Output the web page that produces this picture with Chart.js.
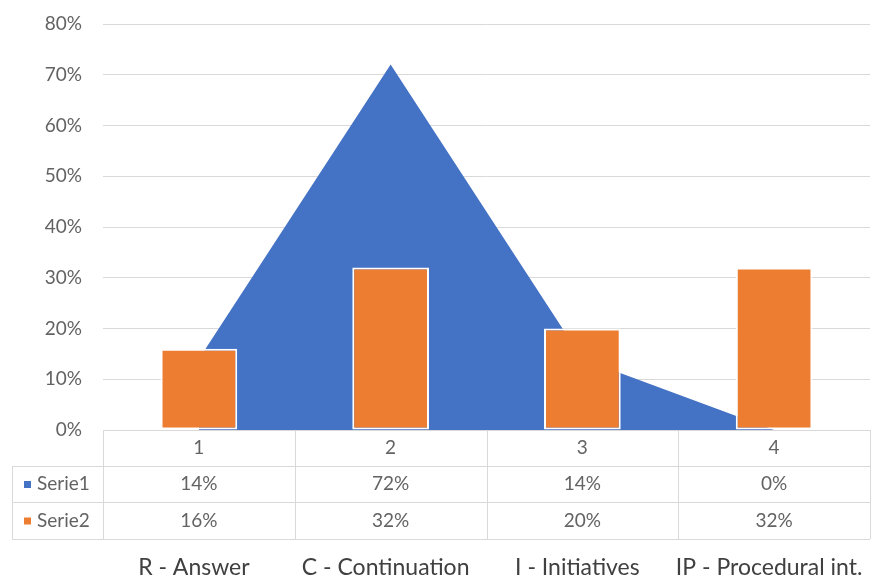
<!DOCTYPE html>
<html>
<head>
<meta charset="utf-8">
<script src="https://cdn.jsdelivr.net/npm/chart.js@4.4.1/dist/chart.umd.min.js"></script>
<style>
  html, body { margin: 0; padding: 0; background: #fff; }
  #wrap { width: 878px; height: 576px; }
</style>
</head>
<body>
<div id="wrap"><canvas id="chart" width="878" height="576"></canvas></div>
<script>
// chart data
const categories = ['1', '2', '3', '4'];
const categoryNames = ['R - Answer', 'C - Continuation', 'I - Initiatives', 'IP - Procedural int.'];
const serie1 = [0.14, 0.72, 0.14, 0.00];
const serie2 = [0.16, 0.32, 0.20, 0.32];
const seriesNames = ['Serie1', 'Serie2'];
const yTicks = [0, 0.1, 0.2, 0.3, 0.4, 0.5, 0.6, 0.7, 0.8];

const BLUE = '#4472C4';
const ORANGE = '#ED7D31';
const GRID = '#D9D9D9';
const TEXT = '#636363';
const FONT = 'Lato, "Open Sans", sans-serif';

const pct = (v) => Math.round(v * 100) + '%';

// Excel-style data table under the plot area
const dataTablePlugin = {
  id: 'dataTable',
  afterDraw(chart) {
    const ctx = chart.ctx;
    const area = chart.chartArea;
    const xs = chart.scales.x;
    const tableLeft = 12;
    const rowTops = [area.bottom, area.bottom + 36, area.bottom + 72, area.bottom + 109];
    const bounds = [area.left];
    categories.forEach((c, i) => {
      bounds.push(i < categories.length - 1
        ? (xs.getPixelForValue(i) + xs.getPixelForValue(i + 1)) / 2
        : area.right);
    });

    ctx.save();
    ctx.strokeStyle = GRID;
    ctx.lineWidth = 1;
    ctx.beginPath();
    // horizontal lines
    ctx.moveTo(area.left, rowTops[0] + 0.5); ctx.lineTo(area.right, rowTops[0] + 0.5);
    for (let r = 1; r < rowTops.length; r++) {
      ctx.moveTo(tableLeft, rowTops[r] + 0.5); ctx.lineTo(area.right, rowTops[r] + 0.5);
    }
    // vertical lines
    bounds.forEach((b) => {
      ctx.moveTo(Math.round(b) + 0.5, rowTops[0]); ctx.lineTo(Math.round(b) + 0.5, rowTops[3]);
    });
    ctx.moveTo(tableLeft + 0.5, rowTops[1]); ctx.lineTo(tableLeft + 0.5, rowTops[3]);
    ctx.stroke();

    ctx.fillStyle = TEXT;
    ctx.font = '19px ' + FONT;
    ctx.textAlign = 'center';
    ctx.textBaseline = 'middle';
    const rows = [categories, serie1.map(pct), serie2.map(pct)];
    rows.forEach((row, r) => {
      const yMid = (rowTops[r] + rowTops[r + 1]) / 2;
      row.forEach((txt, i) => {
        ctx.fillText(txt, xs.getPixelForValue(i), yMid);
      });
    });

    // series names with legend keys
    [BLUE, ORANGE].forEach((col, s) => {
      const yMid = (rowTops[s + 1] + rowTops[s + 2]) / 2;
      ctx.fillStyle = col;
      ctx.fillRect(24, yMid - 3, 7, 7);
      ctx.fillStyle = TEXT;
      ctx.textAlign = 'left';
      ctx.fillText(seriesNames[s], 37, yMid);
    });

    // category descriptions underneath
    ctx.fillStyle = '#404040';
    ctx.font = '23px ' + FONT;
    ctx.textAlign = 'center';
    ctx.textBaseline = 'alphabetic';
    categoryNames.forEach((name, i) => {
      ctx.fillText(name, xs.getPixelForValue(i) - 5, 575);
    });
    ctx.restore();
  }
};

new Chart(document.getElementById('chart'), {
  type: 'bar',
  data: {
    labels: categories,
    datasets: [
      {
        type: 'bar',
        label: seriesNames[1],
        data: serie2,
        backgroundColor: ORANGE,
        borderColor: '#ffffff',
        borderWidth: 2,
        borderSkipped: false,
        barPercentage: 0.4,
        categoryPercentage: 1,
        order: 0
      },
      {
        type: 'line',
        label: seriesNames[0],
        data: serie1,
        backgroundColor: BLUE,
        borderColor: BLUE,
        borderWidth: 0,
        pointRadius: 0,
        fill: 'origin',
        tension: 0,
        order: 1
      }
    ]
  },
  options: {
    responsive: false,
    animation: false,
    layout: { padding: { left: 10, right: 8, top: 24, bottom: 146 } },
    plugins: {
      legend: { display: false },
      tooltip: { enabled: false }
    },
    scales: {
      x: {
        display: false,
        offset: true
      },
      y: {
        min: 0,
        max: 0.8,
        afterBuildTicks: (s) => { s.ticks = yTicks.map((v) => ({ value: v })); },
        afterFit: (s) => { s.width = 93; s.paddingTop = 0; s.paddingBottom = 0; },
        border: { display: false },
        grid: { color: GRID, lineWidth: 1, drawTicks: false },
        ticks: {
          padding: 21,
          color: TEXT,
          font: { family: FONT, size: 19 },
          callback: (v) => pct(v)
        }
      }
    }
  },
  plugins: [dataTablePlugin]
});
</script>
</body>
</html>
